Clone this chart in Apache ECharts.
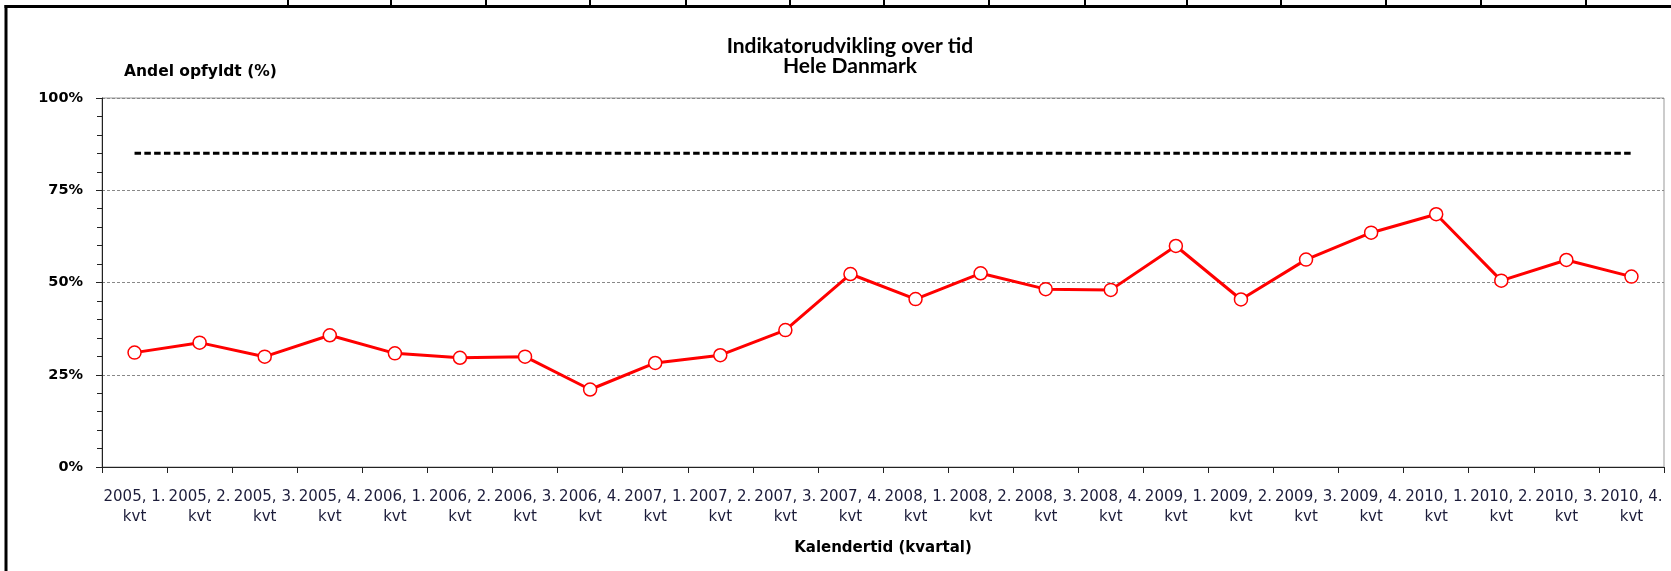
<!DOCTYPE html>
<html>
<head>
<meta charset="utf-8">
<script src="https://cdn.jsdelivr.net/npm/echarts@6/dist/echarts.min.js"></script>
<style>
html,body{margin:0;padding:0;background:#fff;}
#chart{width:1671px;height:571px;}
</style>
</head>
<body>
<div id="chart"></div>
<script>
const categories = [
  "2005, 1.\nkvt","2005, 2.\nkvt","2005, 3.\nkvt","2005, 4.\nkvt",
  "2006, 1.\nkvt","2006, 2.\nkvt","2006, 3.\nkvt","2006, 4.\nkvt",
  "2007, 1.\nkvt","2007, 2.\nkvt","2007, 3.\nkvt","2007, 4.\nkvt",
  "2008, 1.\nkvt","2008, 2.\nkvt","2008, 3.\nkvt","2008, 4.\nkvt",
  "2009, 1.\nkvt","2009, 2.\nkvt","2009, 3.\nkvt","2009, 4.\nkvt",
  "2010, 1.\nkvt","2010, 2.\nkvt","2010, 3.\nkvt","2010, 4.\nkvt"
];
const andelOpfyldt = [31.0, 33.7, 29.9, 35.7, 30.8, 29.6, 29.9, 21.0, 28.2, 30.3, 37.1, 52.3,
                      45.5, 52.5, 48.2, 48.0, 59.9, 45.4, 56.2, 63.5, 68.5, 50.5, 56.1, 51.6];
const standard = [85, 85, 85, 85, 85, 85, 85, 85, 85, 85, 85, 85,
                  85, 85, 85, 85, 85, 85, 85, 85, 85, 85, 85, 85];
const yTicks = [0, 25, 50, 75, 100];
const titleText = "Indikatorudvikling over tid\nHele Danmark";
const yName = "Andel opfyldt (%)";
const xName = "Kalendertid (kvartal)";

// decorative frame of the surrounding page (screenshot border)
const frameX = [287, 390, 485, 589, 685, 789, 883, 988, 1084, 1186, 1280, 1385, 1480, 1585];
const graphics = [
  {type:'rect', shape:{x:4.5, y:5, width:3, height:571}, style:{fill:'#000'}, silent:true},
  {type:'rect', shape:{x:4.5, y:5, width:1670, height:3}, style:{fill:'#000'}, silent:true}
];
frameX.forEach(x => graphics.push({type:'rect', shape:{x:x, y:0, width:2, height:6}, style:{fill:'#000'}, silent:true}));

const chart = echarts.init(document.getElementById('chart'), null, {renderer:'canvas'});
chart.setOption({
  animation:false,
  backgroundColor:'#fff',
  graphic: graphics,
  title:{
    text:titleText,
    left:845, top:31, textAlign:'center',
    textStyle:{fontFamily:'Lato', fontWeight:'bold', fontSize:21, lineHeight:20, color:'#000'}
  },
  grid:{left:102, right:7, top:98, bottom:104, show:true, borderColor:'#999', borderWidth:1, backgroundColor:'#fff'},
  xAxis:{
    type:'category',
    data:categories,
    boundaryGap:true,
    name:xName,
    nameLocation:'middle',
    nameGap:74,
    nameTextStyle:{fontFamily:'DejaVu Sans', fontWeight:'bold', fontSize:15, color:'#000'},
    axisLine:{show:true, lineStyle:{color:'#222', width:1}},
    axisTick:{show:true, length:6, alignWithLabel:false, lineStyle:{color:'#222'}},
    axisLabel:{interval:0, hideOverlap:false, margin:20, fontFamily:'DejaVu Sans', fontSize:15, lineHeight:20, color:'#1c1c3a'},
    splitLine:{show:false}
  },
  yAxis:{
    type:'value',
    min:yTicks[0], max:yTicks[yTicks.length-1], interval:25,
    name:yName,
    nameLocation:'end',
    nameGap:26,
    nameTextStyle:{fontFamily:'DejaVu Sans', fontWeight:'bold', fontSize:15.5, color:'#000', align:'left', verticalAlign:'middle', padding:[0,0,0,22]},
    axisLine:{show:true, lineStyle:{color:'#222', width:1}},
    axisTick:{show:true, length:6, lineStyle:{color:'#222'}},
    minorTick:{show:true, splitNumber:5, length:5, lineStyle:{color:'#222'}},
    axisLabel:{margin:19, formatter:'{value}%', fontFamily:'DejaVu Sans', fontWeight:'bold', fontSize:14.5, color:'#000'},
    splitLine:{show:true, lineStyle:{color:'#888', width:1, type:[3,2]}}
  },
  series:[
    {
      name:'Standard',
      type:'line',
      data:standard,
      symbol:'none',
      z:3,
      lineStyle:{color:'#000', width:3, type:[6.5,3.3]}
    },
    {
      name:'Andel opfyldt',
      type:'line',
      data:andelOpfyldt,
      symbol:'circle',
      symbolSize:13,
      z:4,
      lineStyle:{color:'#ff0000', width:3},
      itemStyle:{color:'#ffffff', borderColor:'#ff0000', borderWidth:1.5}
    }
  ]
});
</script>
</body>
</html>
